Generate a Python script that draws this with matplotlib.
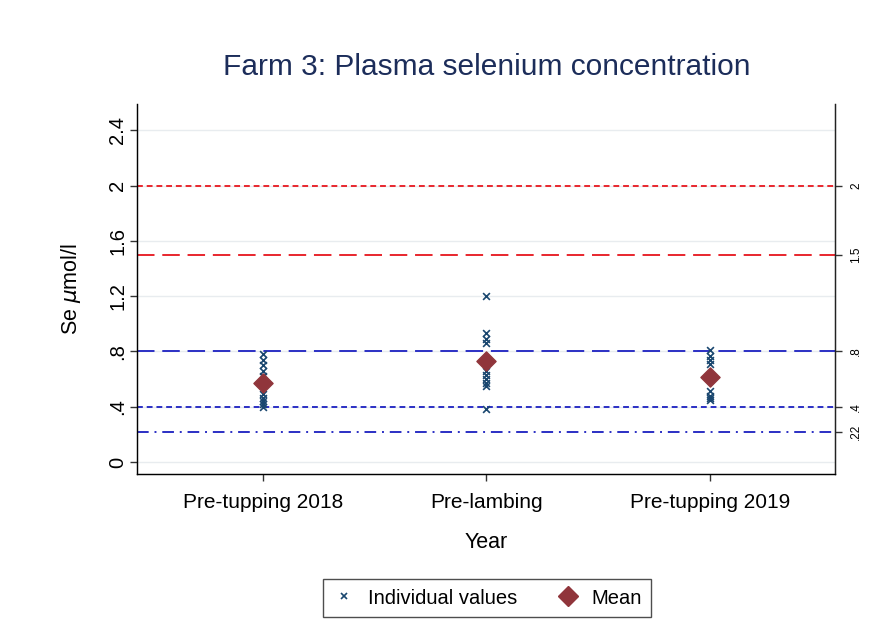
import matplotlib
matplotlib.use("Agg")
import matplotlib.pyplot as plt
from matplotlib.lines import Line2D
import numpy as np

plt.rcParams['font.family'] = ['Liberation Sans', 'DejaVu Sans']

categories = ["Pre-tupping 2018", "Pre-lambing", "Pre-tupping 2019"]
values_2018 = [0.78, 0.74, 0.70, 0.66, 0.62, 0.49, 0.46, 0.44, 0.42, 0.40]
values_lambing = [1.20, 0.93, 0.89, 0.86, 0.66, 0.63, 0.60, 0.57, 0.55, 0.38]
values_2019 = [0.81, 0.77, 0.74, 0.71, 0.51, 0.48, 0.46, 0.45]
groups = [values_2018, values_lambing, values_2019]

y_ticks = [0, 0.4, 0.8, 1.2, 1.6, 2.0, 2.4]
y_tick_labels = ["0", ".4", ".8", "1.2", "1.6", "2", "2.4"]

ref_values = [2.0, 1.5, 0.8, 0.4, 0.22]
ref_labels = ["2", "1.5", ".8", ".4", ".22"]
ref_colors = ["#e8262d", "#e8262d", "#2b2fc4", "#2b2fc4", "#2b2fc4"]
ref_styles = [(0, (3, 2)), (0, (9, 4)), (0, (9, 4)), (0, (3, 2)), (0, (6, 3, 1, 3))]

navy = "#1a476f"
maroon = "#90353b"

fig = plt.figure(figsize=(8.81, 6.44), dpi=100)
ax = fig.add_axes([137 / 881, 1 - 474 / 644, (835 - 137) / 881, (474 - 104) / 644])

ax.set_xlim(0.436, 3.56)
ax.set_ylim(-0.087, 2.59)

for yt in y_ticks:
    ax.axhline(yt, color="#e8ecef", lw=1.0, zorder=0)

for v, c, ls in zip(ref_values, ref_colors, ref_styles):
    ax.axhline(v, color=c, lw=1.4, linestyle=ls, zorder=1)

xpos = np.arange(1, len(categories) + 1)
for x, vals in zip(xpos, groups):
    ax.scatter([x] * len(vals), vals, marker="x", s=24, color=navy, linewidths=1.2, zorder=3)
means = [np.mean(g) for g in groups]
ax.scatter(xpos, means, marker="D", s=95, color=maroon, zorder=4)

ax.set_xticks(xpos)
ax.set_xticklabels(categories, fontsize=15)
ax.set_yticks(y_ticks)
ax.set_yticklabels(y_tick_labels, fontsize=14.5, rotation=90, va="center")
ax.tick_params(axis="both", direction="out", length=5, width=1, color="#333333")
ax.tick_params(axis="y", pad=2)
ax.tick_params(axis="x", pad=9)

ax.spines["top"].set_visible(False)
for side in ["left", "bottom", "right"]:
    ax.spines[side].set_color("#222222")
    ax.spines[side].set_linewidth(1.0)

ax.set_xlabel("Year", fontsize=15.5, labelpad=14)
ax.set_ylabel(r"Se $\mu$mol/l", fontsize=15.5, labelpad=18)

# reference values labelled on a right-hand axis
ax2 = ax.twinx()
ax2.set_ylim(ax.get_ylim())
ax2.set_yticks(ref_values)
ax2.set_yticklabels(ref_labels, fontsize=8.5, rotation=90, va="center")
ax2.tick_params(axis="y", direction="out", length=5, width=1, color="#333333", pad=6)
ax2.spines["top"].set_visible(False)
ax2.spines["right"].set_color("#222222")

fig.text(487 / 881, 1 - 67 / 644, "Farm 3: Plasma selenium concentration",
         fontsize=21.5, color="#1c2d5a", ha="center", va="center")

handles = [
    Line2D([], [], marker="x", linestyle="none", color=navy, markersize=5, markeredgewidth=1.2),
    Line2D([], [], marker="D", linestyle="none", color=maroon, markersize=10),
]
leg = fig.legend(handles, ["Individual values", "Mean"], loc="center",
                 bbox_to_anchor=(487 / 881, 1 - 598 / 644), ncol=2, fontsize=14.5,
                 frameon=True, fancybox=False, edgecolor="#222222",
                 handletextpad=0.6, columnspacing=1.9, borderpad=0.45, handlelength=1.2)
leg.get_frame().set_linewidth(1.0)

fig.savefig("out.png", dpi=100, facecolor="white")
